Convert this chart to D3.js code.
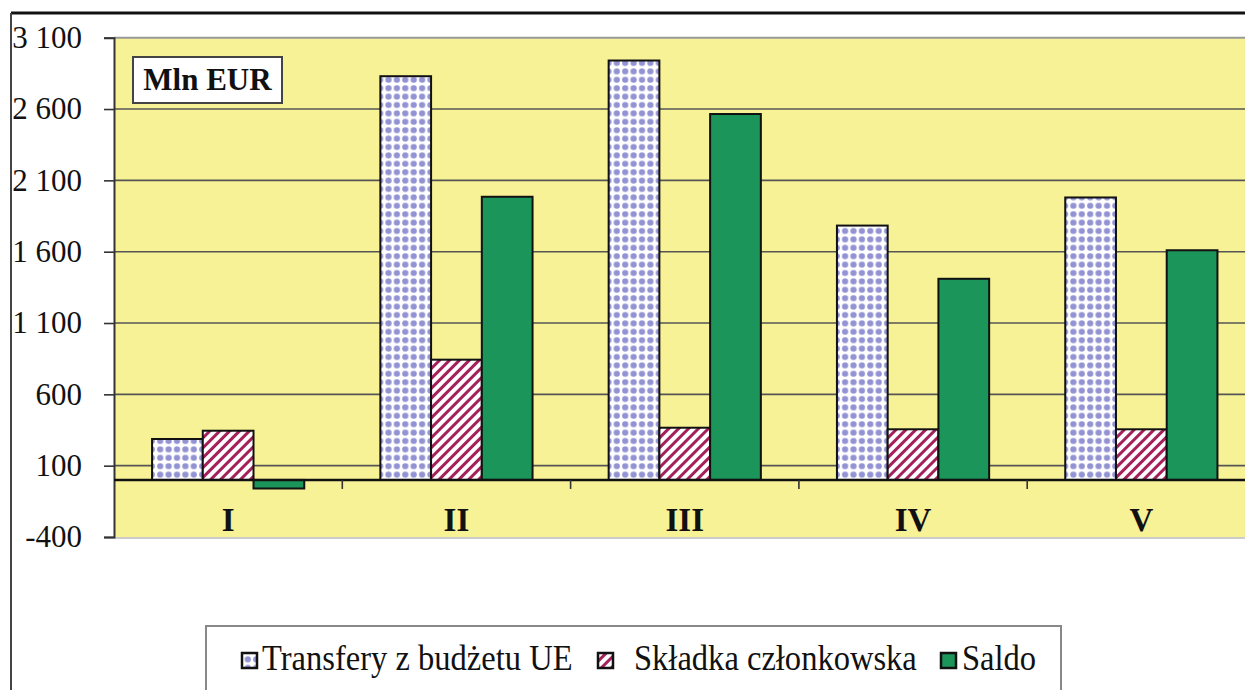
<!DOCTYPE html>
<html>
<head>
<meta charset="utf-8">
<script src="https://cdn.jsdelivr.net/npm/d3@7"></script>
<style>
  body { margin: 0; background: #fff; }
  text { font-family: "Liberation Serif", "Times New Roman", serif; fill: #111; }
</style>
</head>
<body>
<script>
// data
var categories = ["I", "II", "III", "IV", "V"];
var seriesNames = ["Transfery z budżetu UE", "Składka członkowska", "Saldo"];
var transfery = [287, 2830, 2940, 1783, 1980];
var skladka = [345, 843, 366, 355, 355];
var saldo = [-60, 1985, 2565, 1410, 1610];
var yTicks = [-400, 100, 600, 1100, 1600, 2100, 2600, 3100];

var svg = d3.select("body").append("svg")
    .attr("width", 1245)
    .attr("height", 690);

var defs = svg.append("defs");

// dotted fill for transfery
var dots = defs.append("pattern")
    .attr("id", "dots")
    .attr("patternUnits", "userSpaceOnUse")
    .attr("width", 8.4).attr("height", 8.4);
dots.append("rect").attr("width", 8.4).attr("height", 8.4).attr("fill", "#fff");
dots.append("circle").attr("cx", 4.2).attr("cy", 4.2).attr("r", 3.1).attr("fill", "#9393d3");

// diagonal hatch for skladka
var hatch = defs.append("pattern")
    .attr("id", "hatch")
    .attr("patternUnits", "userSpaceOnUse")
    .attr("width", 7).attr("height", 7)
    .attr("patternTransform", "rotate(45)");
hatch.append("rect").attr("width", 7).attr("height", 7).attr("fill", "#fff");
hatch.append("rect").attr("x", 0).attr("width", 3).attr("height", 7).attr("fill", "#a3205a");

var fills = ["url(#dots)", "url(#hatch)", "#1b955a"];

// outer frame
svg.append("line").attr("x1", 11).attr("x2", 1245).attr("y1", 13).attr("y2", 13)
    .attr("stroke", "#111").attr("stroke-width", 3);
svg.append("line").attr("x1", 11).attr("x2", 11).attr("y1", 13).attr("y2", 690)
    .attr("stroke", "#444").attr("stroke-width", 2);

var plotLeft = 114, catW = 228.3;

var x0 = d3.scaleBand()
    .domain(categories)
    .range([plotLeft, plotLeft + catW * categories.length]);

var x1 = d3.scaleBand()
    .domain(seriesNames)
    .range([0, x0.bandwidth()])
    .paddingInner(0)
    .paddingOuter(0.75);

var y = d3.scaleLinear()
    .domain([-400, 3100])
    .range([537, 37.7]);

// plot background
svg.append("rect")
    .attr("x", plotLeft).attr("y", y(3100))
    .attr("width", x0.range()[1] - plotLeft)
    .attr("height", y(-400) - y(3100))
    .attr("fill", "#f8f296");

svg.append("line")
    .attr("x1", plotLeft).attr("x2", 1245)
    .attr("y1", y(3100)).attr("y2", y(3100))
    .attr("stroke", "#999").attr("stroke-width", 2);
svg.append("line")
    .attr("x1", plotLeft).attr("x2", 1245)
    .attr("y1", y(-400) + 1).attr("y2", y(-400) + 1)
    .attr("stroke", "#ccc").attr("stroke-width", 2);

// gridlines
svg.append("g").selectAll("line")
    .data(yTicks.filter(function(d){ return d > -400 && d < 3100; }))
    .enter().append("line")
    .attr("x1", plotLeft).attr("x2", 1245)
    .attr("y1", function(d){ return y(d); })
    .attr("y2", function(d){ return y(d); })
    .attr("stroke", "#555").attr("stroke-width", 1.6);

// y axis
var loc = d3.formatLocale({decimal: ",", thousands: " ", grouping: [3], currency: ["", ""], minus: "-"});
var fmt = loc.format(",");

var yAxis = svg.append("g")
    .attr("transform", "translate(" + plotLeft + ",0)")
    .call(d3.axisLeft(y).tickValues(yTicks).tickSize(10).tickPadding(22).tickFormat(fmt));
yAxis.attr("font-family", null);
yAxis.select(".domain").attr("stroke", "#333").attr("stroke-width", 2);
yAxis.selectAll(".tick line").attr("stroke", "#333").attr("stroke-width", 1.6);
yAxis.selectAll("text")
    .attr("font-size", 31)
    .attr("fill", "#111")
    .attr("font-family", "Liberation Serif");

// bars
var rows = categories.map(function(c, i){
    return {cat: c, vals: [transfery[i], skladka[i], saldo[i]]};
});

var groups = svg.append("g").selectAll("g")
    .data(rows)
    .enter().append("g")
    .attr("transform", function(d){ return "translate(" + x0(d.cat) + ",0)"; });

groups.selectAll("rect")
    .data(function(d){
        return d.vals.map(function(v, k){ return {key: seriesNames[k], k: k, v: v}; });
    })
    .enter().append("rect")
    .attr("x", function(d){ return x1(d.key); })
    .attr("width", x1.bandwidth())
    .attr("y", function(d){ return y(Math.max(0, d.v)); })
    .attr("height", function(d){ return Math.abs(y(d.v) - y(0)); })
    .attr("fill", function(d){ return fills[d.k]; })
    .attr("stroke", "#111")
    .attr("stroke-width", 2);

// zero line and category axis
svg.append("line")
    .attr("x1", plotLeft).attr("x2", 1245)
    .attr("y1", y(0)).attr("y2", y(0))
    .attr("stroke", "#111").attr("stroke-width", 2.4);

svg.append("g").selectAll("line")
    .data(categories.slice(1))
    .enter().append("line")
    .attr("x1", function(d){ return x0(d); })
    .attr("x2", function(d){ return x0(d); })
    .attr("y1", y(0)).attr("y2", y(0) + 9)
    .attr("stroke", "#333").attr("stroke-width", 1.6);

svg.append("g").selectAll("text")
    .data(categories)
    .enter().append("text")
    .attr("x", function(d){ return x0(d) + x0.bandwidth() / 2; })
    .attr("y", 531)
    .attr("text-anchor", "middle")
    .attr("font-size", 33)
    .attr("font-weight", "bold")
    .text(function(d){ return d; });

// unit label
svg.append("rect")
    .attr("x", 133).attr("y", 57).attr("width", 149).attr("height", 46)
    .attr("fill", "#fff").attr("stroke", "#444").attr("stroke-width", 2);
svg.append("text")
    .attr("x", 207.5).attr("y", 90)
    .attr("text-anchor", "middle")
    .attr("font-size", 31)
    .attr("font-weight", "bold")
    .text("Mln EUR");

// legend
svg.append("rect")
    .attr("x", 206).attr("y", 626).attr("width", 855).attr("height", 90)
    .attr("fill", "#fff").attr("stroke", "#888").attr("stroke-width", 2);

var legendPos = [{sx: 242, tx: 262}, {sx: 598, tx: 634}, {sx: 941, tx: 962}];

var leg = svg.append("g").selectAll("g")
    .data(seriesNames)
    .enter().append("g");

leg.append("rect")
    .attr("x", function(d, i){ return legendPos[i].sx; })
    .attr("y", 653)
    .attr("width", 15).attr("height", 15)
    .attr("fill", function(d, i){ return fills[i]; })
    .attr("stroke", "#111").attr("stroke-width", 2.5);

leg.append("text")
    .attr("transform", function(d, i){ return "translate(" + legendPos[i].tx + ",670) scale(0.93,1)"; })
    .attr("font-size", 35)
    .attr("font-family", "Liberation Serif")
    .text(function(d){ return d; });
</script>
</body>
</html>
